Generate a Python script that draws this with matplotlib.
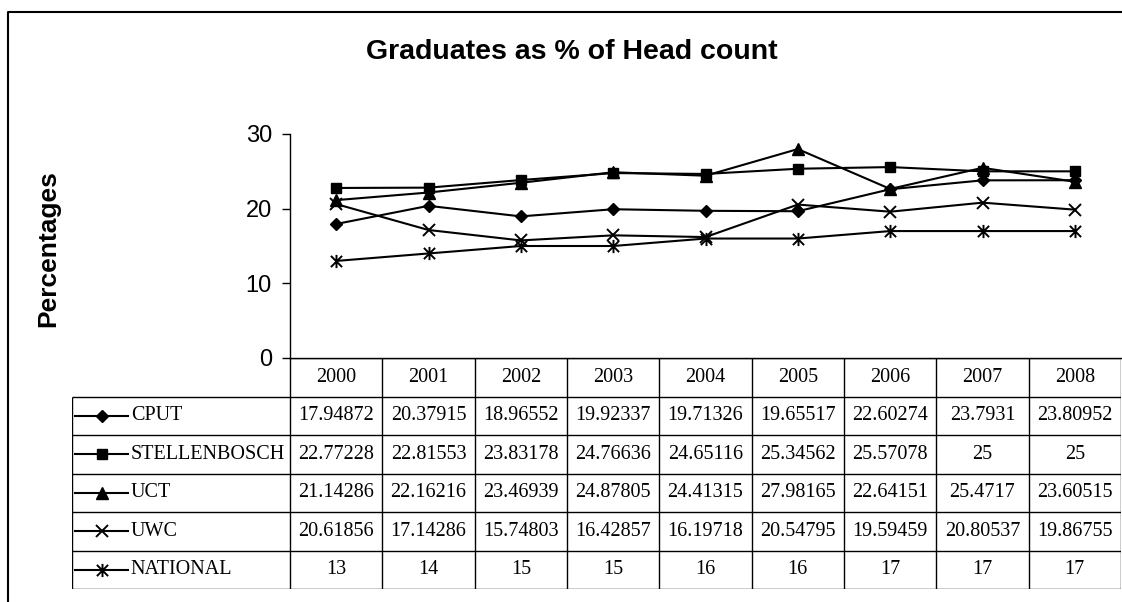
import numpy as np
import matplotlib
matplotlib.use('Agg')
import matplotlib.pyplot as plt
from matplotlib.path import Path
from matplotlib.lines import Line2D

years = ['2000', '2001', '2002', '2003', '2004', '2005', '2006', '2007', '2008']
names = ['CPUT', 'STELLENBOSCH', 'UCT', 'UWC', 'NATIONAL']
cput = [17.94872, 20.37915, 18.96552, 19.92337, 19.71326, 19.65517, 22.60274, 23.7931, 23.80952]
stellenbosch = [22.77228, 22.81553, 23.83178, 24.76636, 24.65116, 25.34562, 25.57078, 25, 25]
uct = [21.14286, 22.16216, 23.46939, 24.87805, 24.41315, 27.98165, 22.64151, 25.4717, 23.60515]
uwc = [20.61856, 17.14286, 15.74803, 16.42857, 16.19718, 20.54795, 19.59459, 20.80537, 19.86755]
national = [13, 14, 15, 15, 16, 16, 17, 17, 17]
yticks = [0, 10, 20, 30]

# excel style star: an x with a vertical bar through it
star = Path([(-0.85, -0.85), (0.85, 0.85), (-0.85, 0.85), (0.85, -0.85), (0, -1), (0, 1)],
            [Path.MOVETO, Path.LINETO, Path.MOVETO, Path.LINETO, Path.MOVETO, Path.LINETO])
styles = [dict(marker='D', ms=6.5), dict(marker='s', ms=7.5), dict(marker='^', ms=8.5),
          dict(marker='x', ms=9, mew=1.4), dict(marker=star, ms=9.5, mew=1.4)]
data = [cput, stellenbosch, uct, uwc, national]

W, H = 1122, 602
fig = plt.figure(figsize=(W/100, H/100), dpi=100)
sans = 'Liberation Sans'
serif = 'Liberation Serif'

x0, x1 = 290, 1121            # plot / table data columns in pixels
ax = fig.add_axes([x0/W, 1-358/H, (x1-x0)/W, 224/H])
x = np.arange(len(years))
for vals, st in zip(data, styles):
    ax.plot(x, vals, color='black', lw=1.5, mfc='black', mec='black', **st)
ax.set_xlim(-0.5, len(years)-0.5)
ax.set_ylim(0, 30)
ax.set_yticks(yticks)
ax.set_xticks([])
for s in ['top', 'right']:
    ax.spines[s].set_visible(False)
ax.spines['left'].set_linewidth(1)
ax.spines['bottom'].set_linewidth(1)
ax.tick_params(axis='y', direction='out', length=6, width=1, pad=7, labelsize=17)
for t in ax.get_yticklabels():
    t.set_fontfamily(sans)

# data table under the plot, columns follow the category axis
legw = (x0-72)/((x1-x0)/len(years))
tab = fig.add_axes([72/W, 1-589/H, (x1-72)/W, 231/H])
tab.set_xlim(-0.5-legw, len(years)-0.5)
tab.set_ylim(len(names)+1, 0)
tab.axis('off')
left = -0.5-legw
right = len(years)-0.5
tab.hlines(0, -0.5, right, color='black', lw=1)
tab.hlines(np.arange(1, len(names)+2), left, right, color='black', lw=1)
tab.vlines(np.arange(len(years)+1)-0.5, 0, len(names)+1, color='black', lw=1)
tab.vlines(left, 1, len(names)+1, color='black', lw=1)
for j, yr in enumerate(years):
    tab.text(j, 0.5, yr, ha='center', va='center', fontsize=14.5, family=serif)
for i, (nm, vals, st) in enumerate(zip(names, data, styles)):
    r = i+1.5
    tab.plot([left+0.035, left+0.61], [r, r], color='black', lw=1.5)
    tab.plot([left+0.32], [r], color='black', mfc='black', mec='black', **st)
    tab.text(left+0.635, r, nm, ha='left', va='center', fontsize=14.5, family=serif)
    for j, v in enumerate(vals):
        tab.text(j, r, '%.7g' % v, ha='center', va='center', fontsize=14.5, family=serif)

fig.text(572/W, 1-52/H, 'Graduates as % of Head count', ha='center', va='center',
         fontsize=20.5, fontweight='bold', family=sans)
fig.text(48/W, 1-249/H, 'Percentages', ha='center', va='center', rotation=90,
         fontsize=19, fontweight='bold', family=sans)

# chart area border (runs off right and bottom)
fig.add_artist(Line2D([7.5/W, 7.5/W, 1.0], [0, 1-11.5/H, 1-11.5/H], color='black', lw=1.5))

fig.savefig('out.png', dpi=100)
